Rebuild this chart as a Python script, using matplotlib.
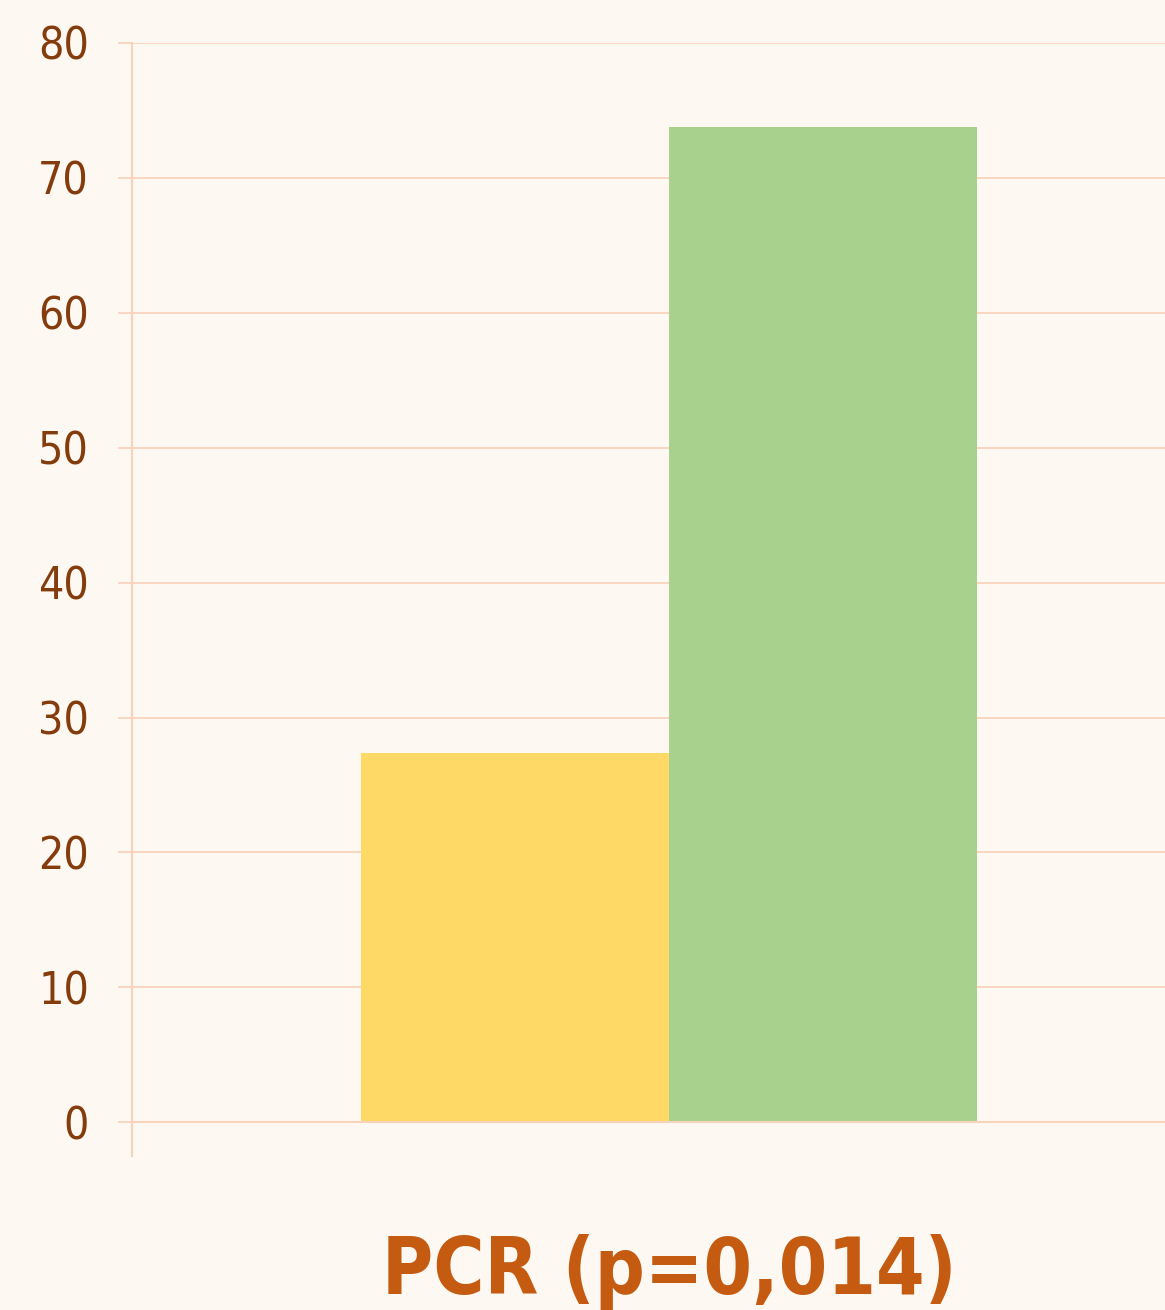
# -*- coding: utf-8 -*-
import matplotlib
matplotlib.use("Agg")
import matplotlib.pyplot as plt
import matplotlib.transforms as mtransforms

################################################################################
# Datos

categoria = "PCR (p=0,014)"
series = ["Serie 1", "Serie 2"]
valores = [27.4, 73.8]
colores = ["#FED966", "#A9D18E"]
yticks = [0, 10, 20, 30, 40, 50, 60, 70, 80]

################################################################################
# Estilo

fondo = "#FEF8F2"
rejilla = "#F8D3BC"
marron = "#843C0C"
naranja = "#C55A11"
fuente = ["DejaVu Sans"]

fig = plt.figure(figsize=(11.65, 13.1), dpi=100, facecolor=fondo)
ax = fig.add_axes([132 / 1165, 154 / 1310, 1074 / 1165, 1113 / 1310])
ax.set_facecolor(fondo)

ancho = 0.573
for i, (v, c) in enumerate(zip(valores, colores)):
    ax.bar((i - 0.5) * ancho, v, width=ancho, color=c, zorder=3, label=series[i])

ax.set_xlim(-1, 1)
ax.set_ylim(-2.5, 80)
ax.set_yticks(yticks)
ax.set_yticklabels([str(t) for t in yticks], family=fuente, fontsize=32,
                   color=marron, fontstretch="condensed")
ax.tick_params(axis="y", length=10, width=1.3, color=rejilla, pad=21)
ax.set_xticks([])
ax.grid(axis="y", color=rejilla, linewidth=1.3, zorder=0)
ax.axhline(0, color=rejilla, linewidth=1.5, zorder=4)

for s in ["top", "right", "bottom"]:
    ax.spines[s].set_visible(False)
ax.spines["left"].set_color(rejilla)
ax.spines["left"].set_linewidth(1.5)

# Etiqueta de la categoría, bajo el eje
trans = mtransforms.blended_transform_factory(ax.transData, fig.transFigure)
ax.text(0, 16 / 1310, categoria, transform=trans, ha="center", va="baseline",
        family=fuente, fontsize=56, fontweight="bold", color=naranja,
        fontstretch="condensed")

plt.savefig("out.png", dpi=100, facecolor=fondo)
